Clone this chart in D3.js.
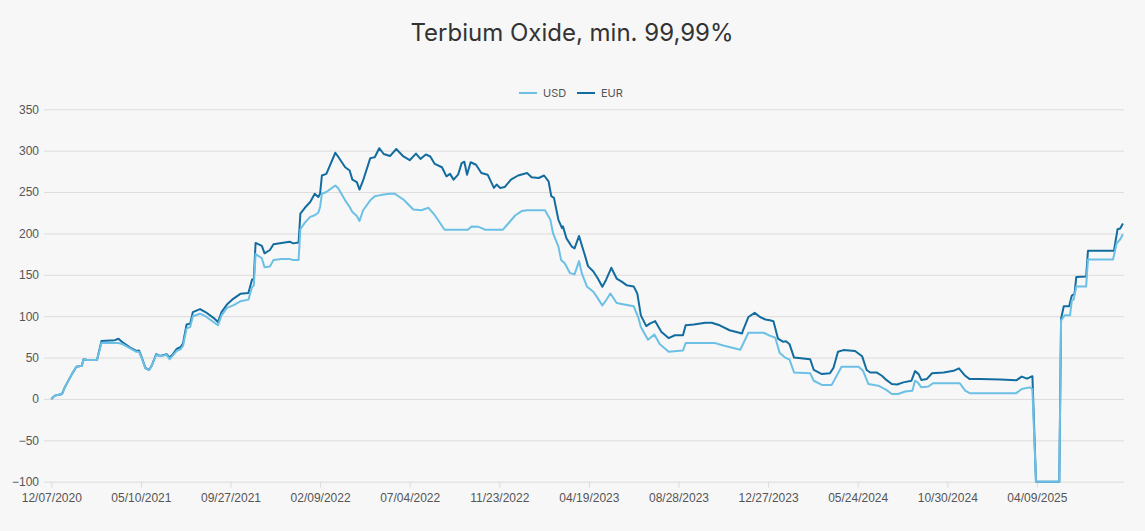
<!DOCTYPE html>
<html>
<head>
<meta charset="utf-8">
<script src="https://cdn.jsdelivr.net/npm/d3@7"></script>
<style>
  body { margin: 0; background: #f7f7f7; }
  svg { display: block; font-family: Inter, "Open Sans", sans-serif; }
</style>
</head>
<body>
<svg id="canvas" width="1145" height="531"></svg>
<script>
// x = trading-day index, a label every 100 points
let tickDays = [0, 100, 200, 300, 400, 500, 600, 700, 800, 900, 1000, 1100];
let tickLabels = ['12/07/2020', '05/10/2021', '09/27/2021', '02/09/2022', '07/04/2022', '11/23/2022',
    '04/19/2023', '08/28/2023', '12/27/2023', '05/24/2024', '10/30/2024', '04/09/2025'];
let yTicks = [-100, -50, 0, 50, 100, 150, 200, 250, 300, 350];

let usdDay = [0, 4, 12, 15, 23, 28, 34, 36, 40, 51, 56, 71, 75, 80, 88, 95, 98, 101, 105, 109,
    112, 117, 121, 129, 132, 136, 140, 144, 147, 151, 155, 158, 166, 172, 181, 186, 190, 196, 203, 211,
    220, 224, 226, 228, 235, 238, 244, 248, 257, 266, 270, 276, 278, 283, 289, 294, 298, 300, 302, 307,
    317, 320, 328, 333, 336, 341, 344, 348, 356, 361, 366, 371, 378, 383, 393, 404, 413, 421, 428, 439,
    465, 469, 477, 484, 504, 510, 518, 525, 531, 551, 557, 560, 566, 569, 573, 579, 584, 589, 592, 598,
    605, 610, 615, 619, 624, 631, 638, 650, 655, 658, 666, 673, 679, 689, 705, 708, 741, 750, 769, 778,
    795, 803, 808, 813, 819, 824, 829, 847, 851, 860, 871, 877, 882, 901, 906, 912, 923, 932, 938, 945,
    953, 961, 964, 967, 971, 979, 984, 1014, 1020, 1025, 1077, 1083, 1092, 1095, 1099, 1125, 1127, 1131, 1137, 1139,
    1141, 1144, 1155, 1157, 1185, 1189, 1193, 1196];
let usdValues = [0, 4, 6, 14, 30, 39, 40, 48, 47, 47, 68, 67.5, 67.5, 66, 61, 57, 57, 49, 37, 35,
    40, 53, 52, 53, 48, 53, 58, 60, 64, 85, 87, 100, 103, 100, 93, 89, 101, 110, 113, 118,
    120, 135, 137, 175, 170, 159, 160, 168, 169, 169, 168, 168, 205, 213, 220, 222, 225, 232, 248, 250,
    258, 255, 240, 232, 226, 221, 215, 228, 240, 245, 246, 247, 248, 248, 241, 229, 228, 231, 222, 204.5,
    204.5, 208.5, 208, 204.5, 204.5, 212, 222, 227, 228, 228, 216.5, 200, 184, 168, 164, 152, 150.6, 166.6, 152, 135.5,
    129.5, 121.5, 113, 119, 127.5, 116, 114.5, 112, 99, 87, 71.5, 78, 66.5, 57, 58.5, 67.5, 67.5, 64.5, 59.5, 80,
    80, 76, 74, 55.5, 50, 47.4, 32, 31, 22, 17, 17, 29, 39, 39, 34, 18, 16, 11, 6, 6,
    9, 10, 22, 20, 14, 15, 19, 19, 10, 7, 7, 12, 14, 12, -100, -100, 95, 101, 101, 119,
    120, 136, 136, 168.5, 168.5, 188, 193, 199];

let eurDay = [0, 4, 12, 15, 23, 28, 34, 36, 40, 51, 56, 71, 75, 80, 88, 95, 98, 101, 105, 109,
    112, 117, 121, 129, 132, 136, 140, 144, 147, 151, 155, 158, 166, 172, 181, 186, 190, 196, 203, 211,
    220, 224, 226, 228, 235, 238, 244, 248, 257, 266, 270, 276, 278, 283, 289, 294, 298, 300, 302, 307,
    317, 320, 328, 333, 336, 341, 344, 348, 356, 361, 366, 371, 378, 385, 393, 400, 407, 412, 418, 423,
    428, 436, 441, 445, 449, 454, 458, 461, 464, 468, 474, 480, 487, 494, 497, 501, 506, 513, 521, 531,
    536, 544, 550, 555, 558, 561, 566, 570, 571, 575, 581, 584, 589, 592, 596, 599, 605, 610, 615, 619,
    625, 631, 637, 642, 650, 654, 658, 664, 668, 674, 681, 689, 696, 705, 708, 717, 730, 737, 746, 757,
    771, 772, 778, 785, 791, 797, 802, 806, 811, 817, 820, 824, 829, 847, 851, 860, 869, 873, 878, 884,
    897, 905, 910, 914, 921, 927, 932, 938, 944, 951, 960, 964, 968, 971, 977, 983, 996, 1007, 1013, 1020,
    1025, 1037, 1059, 1077, 1083, 1089, 1095, 1099, 1125, 1127, 1130, 1136, 1139, 1142, 1144, 1155, 1157, 1186, 1190, 1193,
    1196];
let eurValues = [0, 4, 6, 14, 30, 39, 40, 48, 47, 47, 70, 71, 72.7, 68, 62, 58, 58.5, 50, 37.5, 35,
    40, 54, 52, 54, 50, 54.5, 60.5, 62.5, 67, 90, 91, 105, 108.6, 105, 98, 93, 105, 114, 121, 127,
    128, 144, 145, 188.5, 185, 176, 180, 187, 188.5, 190, 188, 189, 224, 231, 238, 248, 244, 248, 270, 272,
    297.5, 293, 280, 276, 265, 262, 253, 264, 291, 292, 303, 296, 293.5, 302, 293, 288.5, 296.5, 290, 295.5, 293,
    284, 280, 269, 272, 265, 271, 285, 286.6, 271, 286, 283, 273, 271, 255, 259, 255, 256, 265, 270, 273,
    268, 267, 270, 263, 245, 243, 216.5, 206.5, 208.5, 194, 184, 182, 197, 186, 172, 160.5, 154, 145.5, 135.5, 143.5,
    158.5, 145.5, 141.5, 137.5, 136, 127.5, 101, 88, 91, 94, 81, 73.5, 77, 77, 89, 90, 92, 92, 89, 83,
    79, 83, 99, 104, 99, 96, 95, 94, 73, 69, 69.6, 66, 50, 48, 35, 30, 31, 37.6, 57, 59,
    58, 51.5, 35, 32, 32, 28, 23, 18, 17.4, 20, 22, 33.6, 30, 23, 24, 31, 32, 34, 37, 28,
    24, 24, 23.5, 22.5, 27, 24.5, 27.5, -100, -100, 97, 112, 112, 125, 127, 147.5, 148, 179, 179, 205, 206,
    212];

let usdColor = '#6cc0e5';
let eurColor = '#136c9f';

let canvas = d3.select('#canvas');

let x = d3.scaleLinear().domain([0, 1196]).range([51.3, 1122.9]);
let y = d3.scaleLinear().domain([-100, 350]).range([481.7, 109.3]);

//title
canvas.append('text')
    .attr('x', 572)
    .attr('y', 41)
    .attr('text-anchor', 'middle')
    .attr('font-size', 24)
    .attr('fill', '#333')
    .text('Terbium Oxide, min. 99,99%');

//legend
let legend = [['USD', usdColor, 519], ['EUR', eurColor, 577]];
legend.forEach(([name, color, lx]) => {
    canvas.append('line')
        .attr('x1', lx).attr('x2', lx + 18)
        .attr('y1', 93).attr('y2', 93)
        .attr('stroke', color)
        .attr('stroke-width', 2);
    canvas.append('text')
        .attr('x', lx + 24)
        .attr('y', 97)
        .attr('font-size', 11)
        .attr('fill', '#555')
        .text(name);
});

//gridlines + y labels
let yAxis = d3.axisLeft(y)
    .tickValues(yTicks)
    .tickSize(-(1124 - 44))
    .tickPadding(5);
canvas.append('g')
    .attr('transform', 'translate(44,0)')
    .call(yAxis)
    .call(g => g.select('.domain').remove())
    .call(g => g.selectAll('line').attr('stroke', '#dcdcdc'))
    .call(g => g.selectAll('text').attr('font-size', 12).attr('fill', '#555'));

//x axis
let xAxis = d3.axisBottom(x)
    .tickValues(tickDays)
    .tickFormat((d, i) => tickLabels[i])
    .tickSize(6)
    .tickPadding(6);
canvas.append('g')
    .attr('transform', 'translate(0,' + y(-100) + ')')
    .call(xAxis)
    .call(g => g.select('.domain').remove())
    .call(g => g.selectAll('line').attr('stroke', '#dcdcdc'))
    .call(g => g.selectAll('text').attr('font-size', 12).attr('fill', '#555'));

//lines
let series = [
    { days: eurDay, values: eurValues, color: eurColor },
    { days: usdDay, values: usdValues, color: usdColor }
];
let line = d3.line()
    .x(d => x(d[0]))
    .y(d => y(d[1]));

canvas.selectAll('path.series')
    .data(series)
    .enter()
    .append('path')
    .attr('class', 'series')
    .attr('fill', 'none')
    .attr('stroke', d => d.color)
    .attr('stroke-width', 2)
    .attr('stroke-linejoin', 'round')
    .attr('d', d => line(d.days.map((day, i) => [day, d.values[i]])));
</script>
</body>
</html>
